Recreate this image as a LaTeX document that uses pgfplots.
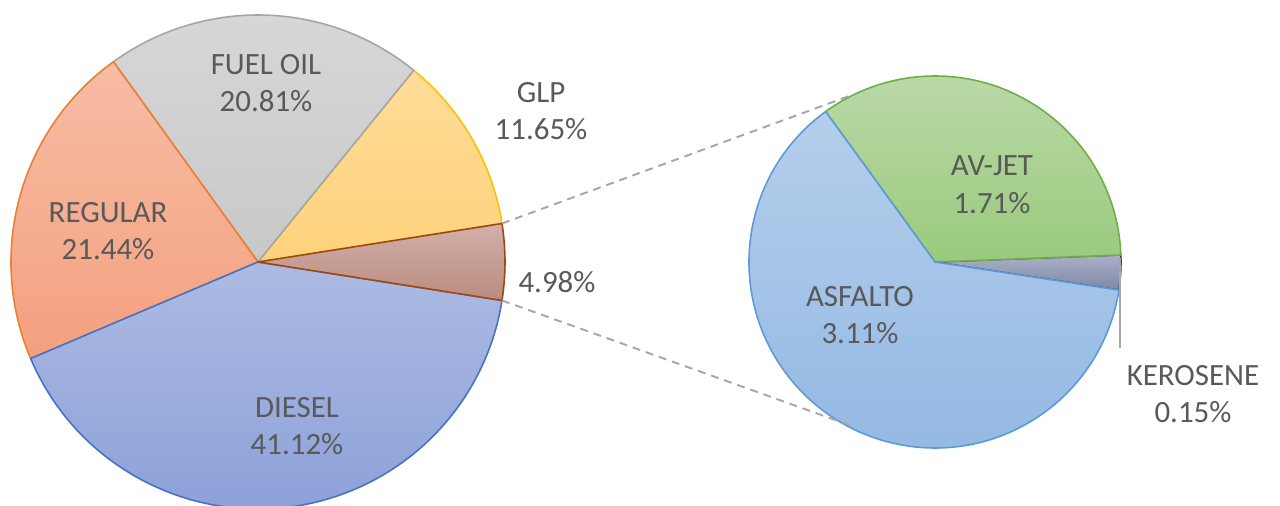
\documentclass[border=0pt]{standalone}
\usepackage{pgfplots}
\pgfplotsset{compat=1.18}
\usepackage{fontspec}
\setmainfont{Carlito}

% slice colours: top / bottom of gradient, border
\definecolor{dieselT}{HTML}{ADBBE3}
\definecolor{dieselB}{HTML}{889ED8}
\definecolor{dieselL}{HTML}{4472C4}
\definecolor{regT}{HTML}{F7BDA5}
\definecolor{regB}{HTML}{F4A07F}
\definecolor{regL}{HTML}{ED7D31}
\definecolor{fuelT}{HTML}{D8D8D8}
\definecolor{fuelB}{HTML}{C8C8C8}
\definecolor{fuelL}{HTML}{A5A5A5}
\definecolor{glpT}{HTML}{FFDC98}
\definecolor{glpB}{HTML}{FFD27C}
\definecolor{glpL}{HTML}{FFC000}
\definecolor{otroT}{HTML}{D2B0A9}
\definecolor{otroB}{HTML}{BB8B80}
\definecolor{otroL}{HTML}{9E480E}
\definecolor{asfT}{HTML}{B5CEEC}
\definecolor{asfB}{HTML}{92B8E3}
\definecolor{asfL}{HTML}{5B9BD5}
\definecolor{jetT}{HTML}{BAD9A8}
\definecolor{jetB}{HTML}{9ACA7D}
\definecolor{jetL}{HTML}{70AD47}
\definecolor{kerT}{HTML}{AAB0C6}
\definecolor{kerB}{HTML}{7E87A7}
\definecolor{kerL}{HTML}{264478}
\definecolor{lbl}{HTML}{595959}
\definecolor{conn}{HTML}{A6A6A6}

\tikzset{lab/.style={font=\fontsize{17.6}{21.5}\selectfont, text=lbl, align=center, inner sep=0pt}}

\begin{document}
\begin{tikzpicture}
\begin{axis}[
  scale only axis, width=25.6cm, height=10.1cm,
  xmin=0, xmax=1280, ymin=0, ymax=505,
  axis lines=none, clip=false,
]
\pgfplotsextra{
  % main pie (percent of total), other slice centred on 0 deg
  \xdef\curang{8.964}
  \foreach \v/\ct/\cb/\cl in {11.65/glpT/glpB/glpL, 20.81/fuelT/fuelB/fuelL,
      21.44/regT/regB/regL, 41.12/dieselT/dieselB/dieselL, 4.98/otroT/otroB/otroL} {
    \pgfmathsetmacro{\nxtang}{\curang+3.6*\v}
    \shadedraw[top color=\ct, bottom color=\cb, draw=\cl, line width=0.9pt, line join=round]
      (axis cs:258,243) -- ++(\curang:4.94cm) arc[start angle=\curang, end angle=\nxtang, radius=4.94cm] -- cycle;
    \global\let\curang\nxtang
  }
  % secondary pie (share of the 4.98 group)
  \xdef\curang{-8.7}
  \foreach \v/\ct/\cb/\cl in {0.15/kerT/kerB/kerL, 1.71/jetT/jetB/jetL, 3.11/asfT/asfB/asfL} {
    \pgfmathsetmacro{\nxtang}{\curang+360*\v/4.97}
    \shadedraw[top color=\ct, bottom color=\cb, draw=\cl, line width=0.9pt, line join=round]
      (axis cs:935,243) -- ++(\curang:3.72cm) arc[start angle=\curang, end angle=\nxtang, radius=3.72cm] -- cycle;
    \global\let\curang\nxtang
  }
  \draw[conn, line width=1.1pt, dash pattern=on 4.5pt off 3.4pt] (axis cs:502,281.5) -- (axis cs:852,410);
  \draw[conn, line width=1.1pt, dash pattern=on 4.5pt off 3.4pt] (axis cs:502,204.5) -- (axis cs:852,79);
  \draw[conn, line width=1.1pt] (axis cs:1120,247) -- (axis cs:1120,157);
}
\node[lab] at (axis cs:266,422) {FUEL OIL\\20.81\%};
\node[lab] at (axis cs:541,394) {GLP\\11.65\%};
\node[lab] at (axis cs:108,274) {REGULAR\\21.44\%};
\node[lab] at (axis cs:297,79) {DIESEL\\41.12\%};
\node[lab] at (axis cs:557,223) {4.98\%};
\node[lab] at (axis cs:992,320) {AV-JET\\1.71\%};
\node[lab] at (axis cs:860,190) {ASFALTO\\3.11\%};
\node[lab] at (axis cs:1193,111) {KEROSENE\\0.15\%};
\end{axis}
\pgfresetboundingbox
\path (current axis.south west) rectangle (current axis.north east);
\end{tikzpicture}
\end{document}
